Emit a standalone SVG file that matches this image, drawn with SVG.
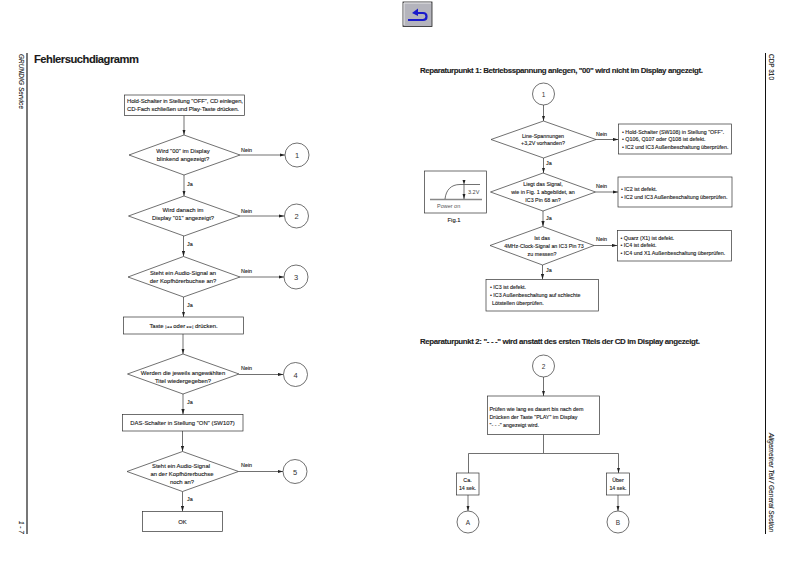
<svg xmlns="http://www.w3.org/2000/svg" width="793" height="561" viewBox="0 0 793 561">
<style>
text{font-family:"Liberation Sans",Arial,sans-serif;fill:#1a1a1a;font-size:5.9px;stroke:#1a1a1a;stroke-width:.12}
.m{text-anchor:middle}
.b{font-weight:bold}
.n{fill:#fff;stroke:#333;stroke-width:.7}
.c{fill:none;stroke:#333;stroke-width:.7}
.num{font-size:7.5px;text-anchor:middle;fill:#333;stroke:none}
.l{font-size:5.4px}
.h{font-size:7.9px;font-weight:bold;fill:#222}
.r text{font-size:5.35px}
</style>
<defs><marker id="a" markerWidth="6" markerHeight="4" refX="5.5" refY="2" orient="auto" markerUnits="userSpaceOnUse"><path d="M0 .4L5.5 2L0 3.6z" fill="#222"/></marker></defs>
<rect width="793" height="561" fill="#fff"/>
<g id="back-button">
<rect x="403" y="2" width="29" height="24.500" fill="#b4b4bc" stroke="#222" stroke-width=".8"/>
<path d="M404 25V3H431" fill="none" stroke="#e8e8e8" stroke-width="1"/>
<path d="M408 20H423Q426.500 20 426.500 16.500Q426.500 13 423 13H414" fill="none" stroke="#1a1acc" stroke-width="2.200"/>
<path d="M418 8.500L412 13L418 16z" fill="#1a1acc"/>
</g>
<g id="page-furniture">
<rect x="26" y="53" width="2" height="481" fill="#777"/>
<rect x="765" y="53" width="1" height="481" fill="#111"/>
<text transform="translate(18.500,54) rotate(90)" font-style="italic" style="font-size:6.400px" textLength="55">GRUNDIG Service</text>
<text transform="translate(18.500,521) rotate(90)" font-style="italic" style="font-size:6.400px">1 - 7</text>
<text transform="translate(768.500,54) rotate(90)" style="font-size:6.400px" textLength="26">CDP 310</text>
<text transform="translate(768.500,433) rotate(90)" font-style="italic" style="font-size:6.400px" textLength="99">Allgemeiner Teil / General Section</text>
<text x="34" y="62.500" class="b" style="font-size:11.200px" textLength="105">Fehlersuchdiagramm</text>
<text x="420" y="72.500" class="h" textLength="283">Reparaturpunkt 1: Betriebsspannung anlegen, "00" wird nicht im Display angezeigt.</text>
<text x="420" y="344" class="h" textLength="280">Reparaturpunkt 2: "- - -" wird anstatt des ersten Titels der CD im Display angezeigt.</text>
</g>
<g id="connectors" class="c">
<path d="M184 115.500V135" marker-end="url(#a)"/>
<path d="M240 155H285" marker-end="url(#a)"/>
<path d="M184 175V196" marker-end="url(#a)"/>
<path d="M240 216H284.500" marker-end="url(#a)"/>
<path d="M183.500 236V256.500" marker-end="url(#a)"/>
<path d="M240 277H284" marker-end="url(#a)"/>
<path d="M183.500 296.500V317" marker-end="url(#a)"/>
<path d="M183 334V354" marker-end="url(#a)"/>
<path d="M239 374.500H283.500" marker-end="url(#a)"/>
<path d="M183 394V414.500" marker-end="url(#a)"/>
<path d="M182.500 431V451.500" marker-end="url(#a)"/>
<path d="M238.500 471.500H283" marker-end="url(#a)"/>
<path d="M182.500 491.500V511.500" marker-end="url(#a)"/>
<path d="M543.500 105V121" marker-end="url(#a)"/>
<path d="M596 139.500H618.500" marker-end="url(#a)"/>
<path d="M543.500 158V173" marker-end="url(#a)"/>
<path d="M595.500 192H618" marker-end="url(#a)"/>
<path d="M543 211V226.500" marker-end="url(#a)"/>
<path d="M594 245.500H617.500" marker-end="url(#a)"/>
<path d="M542.500 265V279.500" marker-end="url(#a)"/>
<path d="M543.500 377V396" marker-end="url(#a)"/>
<path d="M543.500 434.500V453"/>
<path d="M468.500 473V453.500H618.500V473" marker-end="url(#a)"/>
<path d="M468 495V511" marker-end="url(#a)"/>
<path d="M618 495V511" marker-end="url(#a)"/>
</g>
<g id="connector-labels">
<text x="241" y="152" class="l">Nein</text><text x="187" y="186" class="l">Ja</text>
<text x="241" y="213" class="l">Nein</text><text x="187" y="246" class="l">Ja</text>
<text x="241" y="273" class="l">Nein</text><text x="187" y="306.500" class="l">Ja</text>
<text x="241" y="369.500" class="l">Nein</text><text x="187" y="403.500" class="l">Ja</text>
<text x="241" y="466.500" class="l">Nein</text><text x="187" y="500.500" class="l">Ja</text>
<text x="596" y="135.500" class="l">Nein</text><text x="546" y="164.500" class="l">Ja</text>
<text x="596" y="188" class="l">Nein</text><text x="546" y="219.500" class="l">Ja</text>
<text x="596" y="241" class="l">Nein</text><text x="546" y="271.500" class="l">Ja</text>
</g>
<g id="start"><rect class="n" x="124.500" y="95" width="120" height="20.500"/>
<text x="127" y="102.800" textLength="116">Hold-Schalter in Stellung "OFF", CD einlegen,</text>
<text x="127" y="110.800" textLength="112">CD-Fach schließen und Play-Taste drücken.</text></g>
<g id="d1"><path class="n" d="M184 135L240 155L184 175L129 155z"/><text x="183" y="153" class="m">Wird "00" im Display</text><text x="183" y="161" class="m">blinkend angezeigt?</text></g>
<g id="d2"><path class="n" d="M184 196L240 216L184 236L128.500 216z"/><text x="183" y="212" class="m">Wird danach im</text><text x="183" y="220" class="m">Display "01" angezeigt?</text></g>
<g id="d3"><path class="n" d="M183.500 256.500L240 277L183.500 297L128 277z"/><text x="183" y="275" class="m">Steht ein Audio-Signal an</text><text x="183" y="283" class="m">der Kopfhörerbuchse an?</text></g>
<g id="taste"><rect class="n" x="123.500" y="317" width="120" height="17"/><text x="183.500" y="327.800" class="m">Taste <tspan style="font-family:'DejaVu Sans',sans-serif;font-size:3.500px">|◄◄</tspan> oder <tspan style="font-family:'DejaVu Sans',sans-serif;font-size:3.500px">►►|</tspan> drücken.</text></g>
<g id="d4"><path class="n" d="M183 354L239 374L183 394L127.500 374z"/><text x="183" y="375" class="m">Werden die jeweils angewählten</text><text x="183" y="383" class="m">Titel wiedergegeben?</text></g>
<g id="das"><rect class="n" x="122.500" y="414.500" width="120.500" height="16.500"/><text x="182.500" y="424.500" class="m">DAS-Schalter in Stellung "ON" (SW107)</text></g>
<g id="d5"><path class="n" d="M182.500 451.500L238.500 471.500L182.500 491.500L127 471.500z"/><text x="181" y="467.500" class="m">Steht ein Audio-Signal</text><text x="182" y="475.500" class="m">an der Kopfhörerbuchse</text><text x="182" y="483.500" class="m">noch an?</text></g>
<g id="ok"><rect class="n" x="142.500" y="511.500" width="80" height="20"/><text x="182.500" y="523.500" class="m">OK</text></g>
<g id="c1"><circle class="n" cx="297" cy="155" r="12"/><text x="297" y="158" class="num">1</text></g>
<g id="c2"><circle class="n" cx="296.500" cy="216" r="12"/><text x="296.500" y="219" class="num">2</text></g>
<g id="c3"><circle class="n" cx="296" cy="277" r="12"/><text x="296" y="280" class="num">3</text></g>
<g id="c4"><circle class="n" cx="295.500" cy="374.500" r="12"/><text x="295.500" y="377.500" class="num">4</text></g>
<g id="c5"><circle class="n" cx="295" cy="471.500" r="12"/><text x="295" y="474.500" class="num">5</text></g>
<g id="r1"><circle class="n" cx="543.500" cy="94" r="11"/><text x="543.500" y="97" class="num" style="font-size:6.500px">1</text></g>
<g id="da" class="r"><path class="n" d="M543.500 121L596 139.500L543.500 158L491 139.500z"/><text x="543" y="137.500" class="m">Line-Spannungen</text><text x="543" y="145" class="m">+3,2V vorhanden?</text></g>
<g id="ba" class="r"><rect class="n" x="618.500" y="124" width="113" height="30"/>
<text x="622" y="133.500">• Hold-Schalter (SW108) in Stellung "OFF".</text><text x="622" y="140.500">• Q106, Q107 oder Q108 ist defekt.</text><text x="622" y="149">• IC2 und IC3 Außenbeschaltung überprüfen.</text></g>
<g id="db" class="r"><path class="n" d="M543 173L595.500 192L543 211L490.500 192z"/><text x="543" y="186" class="m">Liegt das Signal,</text><text x="543" y="194" class="m">wie in Fig. 1 abgebildet, an</text><text x="543" y="202" class="m">IC3 Pin 68 an?</text></g>
<g id="bb" class="r"><rect class="n" x="618" y="177" width="114" height="30"/><text x="621" y="191">• IC2 ist defekt.</text><text x="621" y="198.500">• IC2 und IC3 Außenbeschaltung überprüfen.</text></g>
<g id="dc" class="r"><path class="n" d="M542.500 226.500L594 245.500L542.500 265L490 245.500z"/><text x="542" y="239.500" class="m">Ist das</text><text x="544" y="247.500" class="m">4MHz-Clock-Signal an IC3 Pin 73</text><text x="542" y="255.500" class="m">zu messen?</text></g>
<g id="bc" class="r"><rect class="n" x="617.500" y="230.500" width="114" height="30.500"/><text x="620.500" y="239.500">• Quarz (X1) ist defekt.</text><text x="620.500" y="247">• IC4 ist defekt.</text><text x="620.500" y="255">• IC4 und X1 Außenbeschaltung überprüfen.</text></g>
<g id="bd" class="r"><rect class="n" x="486" y="279.500" width="112.500" height="31.500"/><text x="490" y="289">• IC3 ist defekt.</text><text x="490" y="297">• IC3 Außenbeschaltung auf schlechte</text><text x="492" y="304.500">Lötstellen überprüfen.</text></g>
<g id="fig1"><rect class="n" x="424.500" y="171" width="62" height="42"/>
<path d="M430 199.500H482" stroke="#888" stroke-width="1.500" fill="none"/>
<path d="M445 199C446 190 451 184.500 460 184.500H480" class="c"/>
<path d="M464 185V199" class="c" marker-start="url(#a)" marker-end="url(#a)"/>
<text x="468" y="194" style="font-size:5.500px;fill:#444;stroke:none">3.2V</text>
<text x="437" y="207.500" style="font-size:5.500px;fill:#555;stroke:none">Power on</text>
<text x="454" y="222" class="m" style="font-size:5.800px">Fig.1</text></g>
<g id="r2"><circle class="n" cx="543.500" cy="366" r="11"/><text x="543.500" y="369" class="num" style="font-size:6.500px">2</text></g>
<g id="be" class="r"><rect class="n" x="487.500" y="396" width="112" height="38.500"/><text x="489.500" y="410.500">Prüfen wie lang es dauert bis nach dem</text><text x="489.500" y="418.500">Drücken der Taste "PLAY" im Display</text><text x="489.500" y="426.500">"- - -" angezeigt wird.</text></g>
<g id="ca" class="r"><rect class="n" x="456.500" y="473" width="22.500" height="22"/><text x="467.500" y="482" class="m">Ca.</text><text x="467.500" y="489.500" class="m">14 sek.</text></g>
<g id="ue" class="r"><rect class="n" x="606.500" y="473" width="23" height="22"/><text x="618" y="482" class="m">Über</text><text x="618" y="489.500" class="m">14 sek.</text></g>
<g id="a-node"><circle class="n" cx="468" cy="522" r="11"/><text x="468" y="525" class="num" style="font-size:6.500px">A</text></g>
<g id="b-node"><circle class="n" cx="618" cy="522" r="11"/><text x="618" y="525" class="num" style="font-size:6.500px">B</text></g>
</svg>
